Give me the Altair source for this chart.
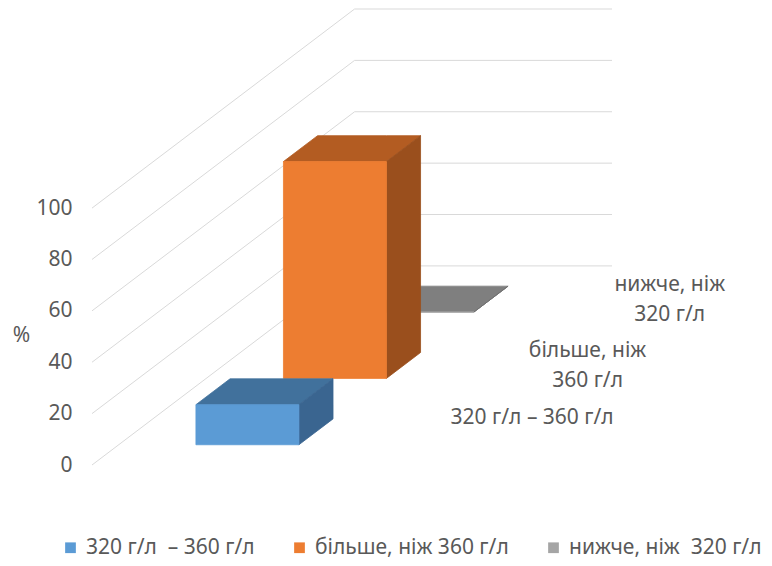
import altair as alt
import pandas as pd

# ---------------- data ----------------
series = ["320 г/л \u00a0– 360 г/л", "більше, ніж 360 г/л", "нижче, ніж \u00a0320 г/л"]
depth_labels = ["320 г/л – 360 г/л", "більше, ніж\n360 г/л", "нижче, ніж\n320 г/л"]
values = [15.6, 84.4, 0.0]
y_ticks = [0, 20, 40, 60, 80, 100]

# ---------------- style / geometry ----------------
FONT = "Noto Sans"
FS = 21
TEXT = "#595959"
GRID = "#D9D9D9"
FRONT_COL = ["#5B9BD5", "#ED7D31", "#A5A5A5"]
TOP_COL = ["#41719C", "#B35C22", "#7F7F7F"]
SIDE_COL = ["#3A6590", "#9A4F1D", "#6E6E6E"]

W, H = 520, 456            # plot area in px
FRONT_W = 100.0            # width of the front plane (x units)
DEPTH_X = 102.0            # x shift of full depth (x units)
DEPTH_Y = 77.5             # y shift of full depth (value units)
X_MAX = FRONT_W + DEPTH_X
Y_MAX = 100 + DEPTH_Y
PX_X = W / X_MAX
PX_Y = H / Y_MAX
BAR_X0, BAR_X1 = 30.0, 70.0
SLOT = 1.0 / 3.0
BAR_D = 0.13
BAR_T0 = (SLOT - BAR_D) / 2

def proj(x, v, t):
    return x + DEPTH_X * t, v + DEPTH_Y * t

# ---------------- tables ----------------
grid_rows = []
for g in y_ticks:
    pts = [(0.0, g), (DEPTH_X, g + DEPTH_Y), (X_MAX, g + DEPTH_Y)]
    for k, (x, y) in enumerate(pts):
        grid_rows.append({"tick": g, "k": k, "x": x, "y": y})
grid_df = pd.DataFrame(grid_rows)

face_rows = []
front_rows = []
for i, (s, v) in enumerate(zip(series, values)):
    tf = i * SLOT + BAR_T0
    tb = tf + BAR_D
    dx = DEPTH_X * BAR_D
    # front face
    fx0, fy0 = proj(BAR_X0, 0, tf)
    fx1, fy1 = proj(BAR_X1, v, tf)
    front_rows.append({"series": s, "x": fx0, "x2": fx1, "y": fy0, "y2": fy1})
    # top face
    ax, yf = proj(BAR_X0, v, tf)
    bx, _ = proj(BAR_X1, v, tf)
    _, yb = proj(BAR_X0, v, tb)
    for x, y, y2 in [(ax, yf, yf), (ax + dx, yf, yb), (bx, yf, yb), (bx + dx, yb, yb)]:
        face_rows.append({"series": s, "face": "top", "x": x, "y": y, "y2": y2, "col": TOP_COL[i]})
    # side face
    for t in (tf, tb):
        sx, sb = proj(BAR_X1, 0, t)
        _, st = proj(BAR_X1, v, t)
        face_rows.append({"series": s, "face": "side", "x": sx, "y": sb, "y2": st, "col": SIDE_COL[i]})
face_df = pd.DataFrame(face_rows)
front_df = pd.DataFrame(front_rows)

label_rows = []
for i, lab in enumerate(depth_labels):
    tc = (i + 0.5) * SLOT
    axx, ayy = proj(FRONT_W, 0, tc)
    longest = max(len(l) for l in lab.split("\n"))
    cx = axx + (48 + longest * 10.7 / 2) / PX_X
    cy = ayy + 25 / PX_Y
    label_rows.append({"label": lab, "x": cx, "y": cy})
label_df = pd.DataFrame(label_rows)

xs = alt.Scale(domain=[0, X_MAX], nice=False, zero=False)
ys = alt.Scale(domain=[0, Y_MAX], nice=False, zero=False)

color = alt.Color(
    "series:N",
    scale=alt.Scale(domain=series, range=FRONT_COL),
    legend=alt.Legend(
        title=None, orient="none", legendX=-32, legendY=528, direction="horizontal",
        symbolType="square", symbolSize=115, symbolStrokeWidth=0, labelFontSize=FS,
        labelColor=TEXT, labelFont=FONT, columnPadding=34, padding=0, labelOffset=5,
        labelLimit=0, symbolOffset=0,
    ),
)

grid = alt.Chart(grid_df).mark_line(color=GRID, strokeWidth=1).encode(
    x=alt.X("x:Q", scale=xs, axis=None),
    y=alt.Y("y:Q", scale=ys, axis=alt.Axis(
        values=y_ticks, grid=False, ticks=False, domain=False, labelFontSize=FS,
        labelColor=TEXT, labelFont=FONT, labelPadding=20, title="%", titleAngle=0,
        titleX=-71, titleY=326, titleAlign="center", titleBaseline="middle",
        titleFontSize=FS, titleFontWeight="normal", titleColor=TEXT, titleFont=FONT,
    )),
    detail="tick:N",
    order="k:Q",
)

layers = [grid]
for i in [2, 1, 0]:
    s = series[i]
    faces = alt.Chart(face_df).transform_filter(alt.datum.series == s).mark_area(
        orient="vertical", clip=False, strokeWidth=0.8
    ).encode(
        x=alt.X("x:Q", scale=xs), y=alt.Y("y:Q", scale=ys), y2="y2:Q",
        detail="face:N", fill=alt.Fill("col:N", scale=None),
        stroke=alt.Stroke("col:N", scale=None),
    )
    front = alt.Chart(front_df).transform_filter(alt.datum.series == s).mark_rect(
        strokeWidth=0.8
    ).encode(
        x=alt.X("x:Q", scale=xs), x2="x2:Q", y=alt.Y("y:Q", scale=ys), y2="y2:Q",
        color=color,
        stroke=alt.value(FRONT_COL[i]),
    )
    layers += [faces, front]

labels = alt.Chart(label_df).mark_text(
    font=FONT, fontSize=FS, color=TEXT, align="center", baseline="top",
    lineBreak="\n", lineHeight=30,
).encode(x=alt.X("x:Q", scale=xs), y=alt.Y("y:Q", scale=ys), text="label:N")
layers.append(labels)

chart = alt.layer(*layers).properties(
    width=W, height=H,
    autosize=alt.AutoSizeParams(type="none"),
    padding={"left": 92, "top": 9, "right": 772 - 92 - W, "bottom": 566 - 9 - H},
    background="white",
).configure_view(stroke=None)

chart.save("out.html", embed_options={"renderer": "svg", "actions": False})
